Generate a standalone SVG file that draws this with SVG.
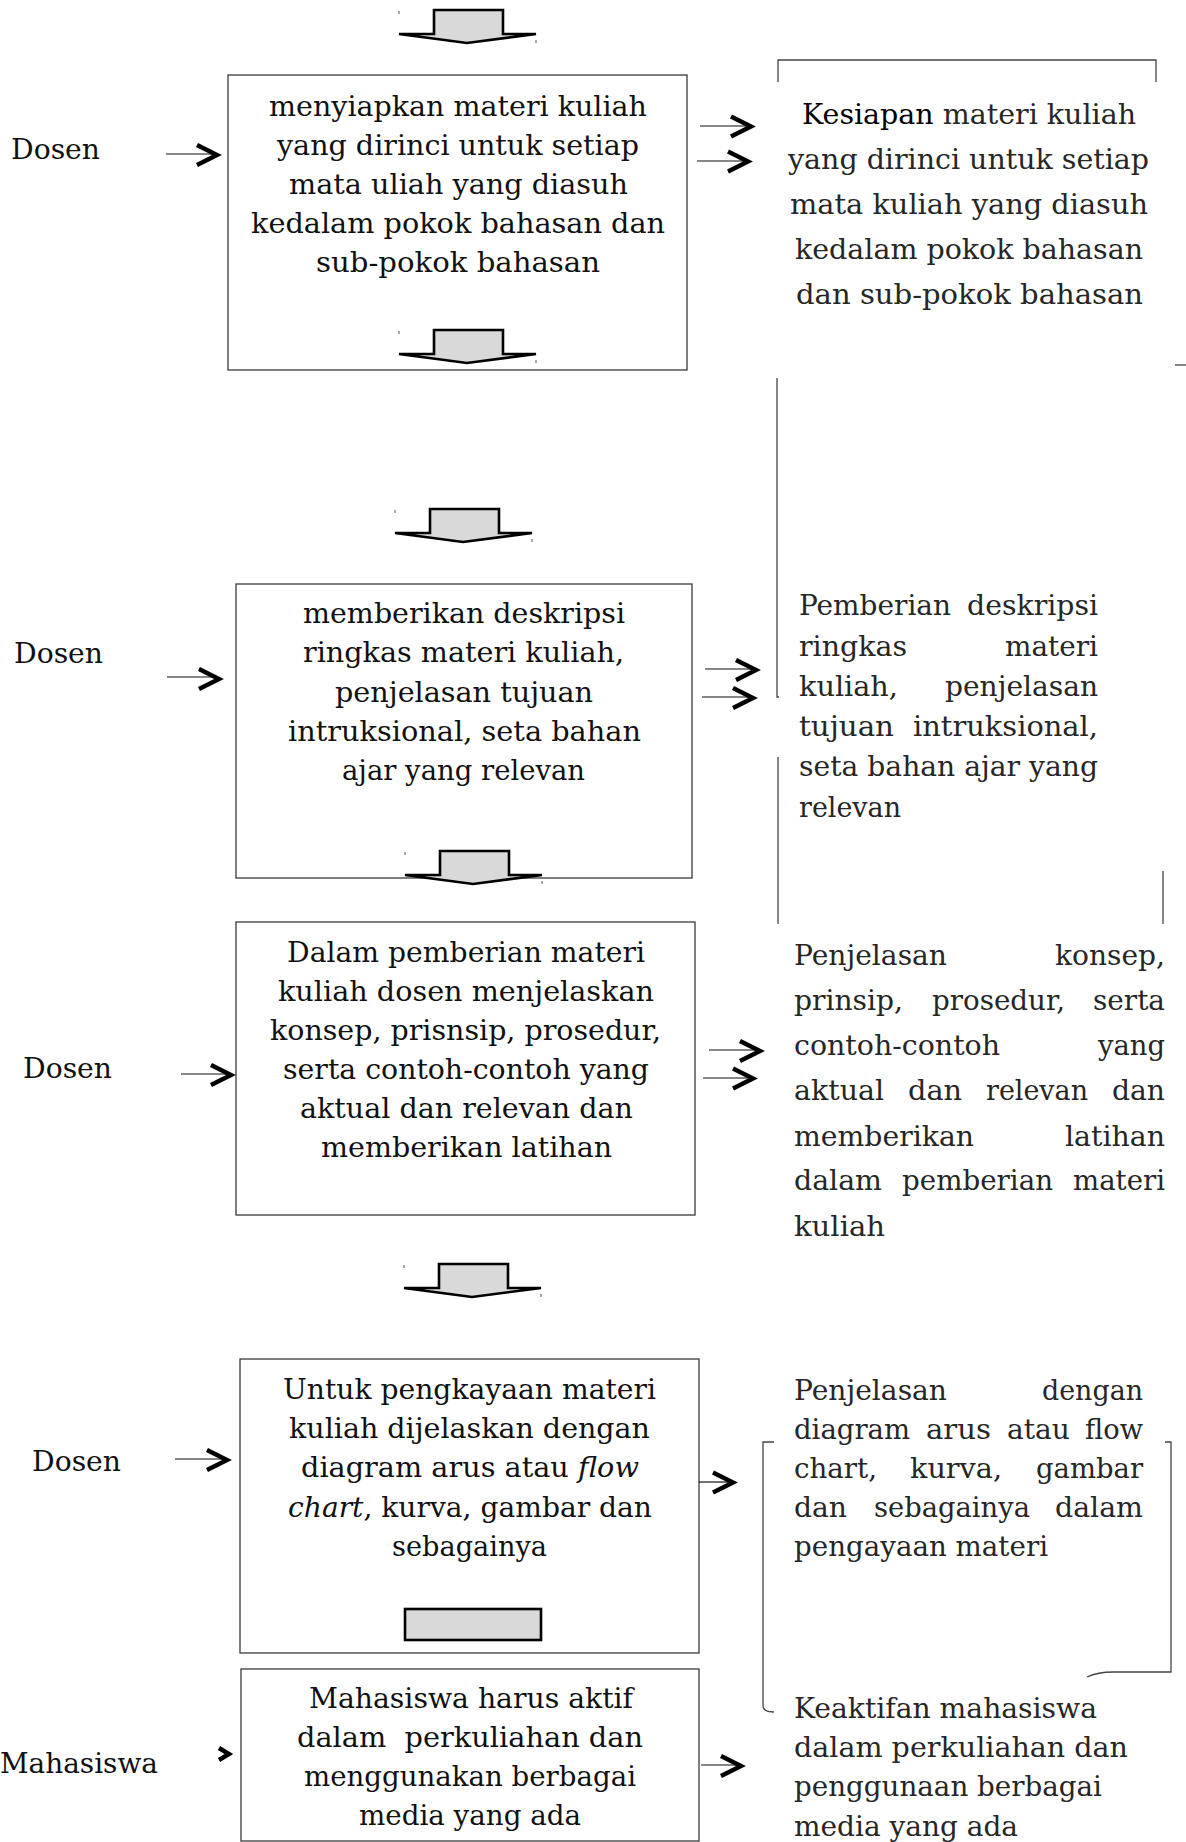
<svg xmlns="http://www.w3.org/2000/svg" xmlns:xlink="http://www.w3.org/1999/xlink" width="1186" height="1842" viewBox="0 0 1186 1842">
<style>
.bg{fill:#fff}
.b{fill:#fff;stroke:#3a3a3a;stroke-width:1.3}
.t{font-family:"DejaVu Serif","Liberation Serif",serif;font-size:28px;fill:#111}
.r{fill:#262626}
.k{fill:#000}
.ba{fill:#d9d9d9;stroke:#000;stroke-width:2.6;stroke-linejoin:miter}
.ln{stroke:#111;stroke-width:1.2;fill:none}
.ch{stroke:#000;stroke-width:4.4;fill:none;stroke-linejoin:miter;stroke-linecap:butt}
.fr{stroke:#444;stroke-width:1.3;fill:none}
.tk{stroke:#555;stroke-width:1;fill:none}
</style>
<defs>
<path id="chev" class="ch" d="M-20,-10 L0,0 L-20,10"/>
<g id="barrow">
<path class="ba" d="M35,0 H104 V24 H137 L68,33 L0,24 H35 Z"/>
<path class="tk" d="M0,1 V4 M137,30 V33"/>
</g>
</defs>
<rect class="bg" x="0" y="0" width="1186" height="1842"/>

<g id="label-dosen-1"><text class="t" x="11" y="159" textLength="89" lengthAdjust="spacingAndGlyphs">Dosen</text></g>
<g id="label-dosen-2"><text class="t" x="14" y="663" textLength="89" lengthAdjust="spacingAndGlyphs">Dosen</text></g>
<g id="label-dosen-3"><text class="t" x="23" y="1078" textLength="89" lengthAdjust="spacingAndGlyphs">Dosen</text></g>
<g id="label-dosen-4"><text class="t" x="32" y="1471" textLength="89" lengthAdjust="spacingAndGlyphs">Dosen</text></g>
<g id="label-mahasiswa"><text class="t" x="0" y="1773" textLength="158" lengthAdjust="spacingAndGlyphs">Mahasiswa</text></g>

<g id="box-1">
<rect class="b" x="228" y="75" width="459" height="295"/>
<text class="t" x="269" y="116" textLength="378" lengthAdjust="spacingAndGlyphs">menyiapkan materi kuliah</text>
<text class="t" x="277" y="155" textLength="362" lengthAdjust="spacingAndGlyphs">yang dirinci untuk setiap</text>
<text class="t" x="289" y="194" textLength="339" lengthAdjust="spacingAndGlyphs">mata uliah yang diasuh</text>
<text class="t" x="251" y="233" textLength="414" lengthAdjust="spacingAndGlyphs">kedalam pokok bahasan dan</text>
<text class="t" x="316" y="272" textLength="284" lengthAdjust="spacingAndGlyphs">sub-pokok bahasan</text>
</g>

<g id="box-2">
<rect class="b" x="236" y="584" width="456" height="294"/>
<text class="t" x="303" y="623" textLength="322" lengthAdjust="spacingAndGlyphs">memberikan deskripsi</text>
<text class="t" x="303" y="662" textLength="321" lengthAdjust="spacingAndGlyphs">ringkas materi kuliah,</text>
<text class="t" x="335" y="702" textLength="258" lengthAdjust="spacingAndGlyphs">penjelasan tujuan</text>
<text class="t" x="288" y="741" textLength="353" lengthAdjust="spacingAndGlyphs">intruksional, seta bahan</text>
<text class="t" x="342" y="780" textLength="243" lengthAdjust="spacingAndGlyphs">ajar yang relevan</text>
</g>

<g id="box-3">
<rect class="b" x="236" y="922" width="459" height="293"/>
<text class="t" x="287" y="962" textLength="358" lengthAdjust="spacingAndGlyphs">Dalam pemberian materi</text>
<text class="t" x="278" y="1001" textLength="376" lengthAdjust="spacingAndGlyphs">kuliah dosen menjelaskan</text>
<text class="t" x="270" y="1040" textLength="391" lengthAdjust="spacingAndGlyphs">konsep, prisnsip, prosedur,</text>
<text class="t" x="283" y="1079" textLength="366" lengthAdjust="spacingAndGlyphs">serta contoh-contoh yang</text>
<text class="t" x="300" y="1118" textLength="333" lengthAdjust="spacingAndGlyphs">aktual dan relevan dan</text>
<text class="t" x="321" y="1157" textLength="291" lengthAdjust="spacingAndGlyphs">memberikan latihan</text>
</g>

<g id="box-4">
<rect class="b" x="240" y="1359" width="459" height="294"/>
<text class="t" x="283" y="1399" textLength="373" lengthAdjust="spacingAndGlyphs">Untuk pengkayaan materi</text>
<text class="t" x="289" y="1438" textLength="361" lengthAdjust="spacingAndGlyphs">kuliah dijelaskan dengan</text>
<text class="t" x="301" y="1477" textLength="338" lengthAdjust="spacingAndGlyphs">diagram arus atau <tspan font-style="italic">flow</tspan></text>
<text class="t" x="288" y="1517" textLength="364" lengthAdjust="spacingAndGlyphs"><tspan font-style="italic">chart</tspan>, kurva, gambar dan</text>
<text class="t" x="392" y="1556" textLength="155" lengthAdjust="spacingAndGlyphs">sebagainya</text>
<rect class="ba" x="405" y="1609" width="136" height="31"/>
</g>

<g id="box-5">
<rect class="b" x="241" y="1669" width="458" height="172"/>
<text class="t" x="309" y="1708" textLength="324" lengthAdjust="spacingAndGlyphs">Mahasiswa harus aktif</text>
<text class="t" x="297" y="1747" textLength="346" lengthAdjust="spacingAndGlyphs" xml:space="preserve">dalam  perkuliahan dan</text>
<text class="t" x="304" y="1786" textLength="332" lengthAdjust="spacingAndGlyphs">menggunakan berbagai</text>
<text class="t" x="359" y="1825" textLength="222" lengthAdjust="spacingAndGlyphs">media yang ada</text>
</g>

<g id="result-1">
<text class="t r" x="802" y="124" textLength="334" lengthAdjust="spacingAndGlyphs"><tspan class="k">Kesiapan</tspan> materi kuliah</text>
<text class="t r" x="788" y="169" textLength="361" lengthAdjust="spacingAndGlyphs">yang dirinci untuk setiap</text>
<text class="t r" x="790" y="214" textLength="358" lengthAdjust="spacingAndGlyphs">mata kuliah yang diasuh</text>
<text class="t r" x="795" y="259" textLength="348" lengthAdjust="spacingAndGlyphs">kedalam pokok bahasan</text>
<text class="t r" x="796" y="304" textLength="347" lengthAdjust="spacingAndGlyphs">dan sub-pokok bahasan</text>
</g>

<g id="result-2">
<text class="t r" y="615"><tspan x="799" textLength="152" lengthAdjust="spacingAndGlyphs">Pemberian</tspan><tspan x="967" textLength="131" lengthAdjust="spacingAndGlyphs">deskripsi</tspan></text>
<text class="t r" y="656"><tspan x="799" textLength="108" lengthAdjust="spacingAndGlyphs">ringkas</tspan><tspan x="1005" textLength="93" lengthAdjust="spacingAndGlyphs">materi</tspan></text>
<text class="t r" y="696"><tspan x="799" textLength="99" lengthAdjust="spacingAndGlyphs">kuliah,</tspan><tspan x="945" textLength="153" lengthAdjust="spacingAndGlyphs">penjelasan</tspan></text>
<text class="t r" y="736"><tspan x="799" textLength="95" lengthAdjust="spacingAndGlyphs">tujuan</tspan><tspan x="913" textLength="185" lengthAdjust="spacingAndGlyphs">intruksional,</tspan></text>
<text class="t r" x="799" y="776" textLength="299" lengthAdjust="spacingAndGlyphs">seta bahan ajar yang</text>
<text class="t r" x="799" y="817" textLength="102" lengthAdjust="spacingAndGlyphs">relevan</text>
</g>

<g id="result-3">
<text class="t r" y="965"><tspan x="794" textLength="153" lengthAdjust="spacingAndGlyphs">Penjelasan</tspan><tspan x="1055" textLength="110" lengthAdjust="spacingAndGlyphs">konsep,</tspan></text>
<text class="t r" y="1010"><tspan x="794" textLength="109" lengthAdjust="spacingAndGlyphs">prinsip,</tspan><tspan x="932" textLength="133" lengthAdjust="spacingAndGlyphs">prosedur,</tspan><tspan x="1093" textLength="72" lengthAdjust="spacingAndGlyphs">serta</tspan></text>
<text class="t r" y="1055"><tspan x="794" textLength="206" lengthAdjust="spacingAndGlyphs">contoh-contoh</tspan><tspan x="1098" textLength="67" lengthAdjust="spacingAndGlyphs">yang</tspan></text>
<text class="t r" y="1100"><tspan x="794" textLength="90" lengthAdjust="spacingAndGlyphs">aktual</tspan><tspan x="908" textLength="54" lengthAdjust="spacingAndGlyphs">dan</tspan><tspan x="986" textLength="102" lengthAdjust="spacingAndGlyphs">relevan</tspan><tspan x="1112" textLength="53" lengthAdjust="spacingAndGlyphs">dan</tspan></text>
<text class="t r" y="1146"><tspan x="794" textLength="180" lengthAdjust="spacingAndGlyphs">memberikan</tspan><tspan x="1065" textLength="100" lengthAdjust="spacingAndGlyphs">latihan</tspan></text>
<text class="t r" y="1190"><tspan x="794" textLength="88" lengthAdjust="spacingAndGlyphs">dalam</tspan><tspan x="902" textLength="151" lengthAdjust="spacingAndGlyphs">pemberian</tspan><tspan x="1073" textLength="92" lengthAdjust="spacingAndGlyphs">materi</tspan></text>
<text class="t r" x="794" y="1236" textLength="91" lengthAdjust="spacingAndGlyphs">kuliah</text>
</g>

<g id="result-4">
<text class="t r" y="1400"><tspan x="794" textLength="153" lengthAdjust="spacingAndGlyphs">Penjelasan</tspan><tspan x="1042" textLength="101" lengthAdjust="spacingAndGlyphs">dengan</tspan></text>
<text class="t r" y="1439"><tspan x="794" textLength="116" lengthAdjust="spacingAndGlyphs">diagram</tspan><tspan x="926" textLength="65" lengthAdjust="spacingAndGlyphs">arus</tspan><tspan x="1007" textLength="63" lengthAdjust="spacingAndGlyphs">atau</tspan><tspan x="1085" textLength="58" lengthAdjust="spacingAndGlyphs">flow</tspan></text>
<text class="t r" y="1478"><tspan x="794" textLength="83" lengthAdjust="spacingAndGlyphs">chart,</tspan><tspan x="910" textLength="92" lengthAdjust="spacingAndGlyphs">kurva,</tspan><tspan x="1036" textLength="107" lengthAdjust="spacingAndGlyphs">gambar</tspan></text>
<text class="t r" y="1517"><tspan x="794" textLength="53" lengthAdjust="spacingAndGlyphs">dan</tspan><tspan x="874" textLength="156" lengthAdjust="spacingAndGlyphs">sebagainya</tspan><tspan x="1055" textLength="88" lengthAdjust="spacingAndGlyphs">dalam</tspan></text>
<text class="t r" x="794" y="1556" textLength="254" lengthAdjust="spacingAndGlyphs">pengayaan materi</text>
</g>

<g id="result-5">
<text class="t r" x="794" y="1718" textLength="303" lengthAdjust="spacingAndGlyphs">Keaktifan mahasiswa</text>
<text class="t r" x="794" y="1757" textLength="334" lengthAdjust="spacingAndGlyphs">dalam perkuliahan dan</text>
<text class="t r" x="794" y="1796" textLength="308" lengthAdjust="spacingAndGlyphs">penggunaan berbagai</text>
<text class="t r" x="794" y="1836" textLength="224" lengthAdjust="spacingAndGlyphs">media yang ada</text>
</g>

<g id="connectors">
<use xlink:href="#barrow" href="#barrow" x="399" y="10"/>
<use xlink:href="#barrow" href="#barrow" x="399" y="330"/>
<use xlink:href="#barrow" href="#barrow" x="395" y="509"/>
<use xlink:href="#barrow" href="#barrow" x="405" y="851"/>
<use xlink:href="#barrow" href="#barrow" x="404" y="1264"/>

<path class="ln" d="M166,154 H212"/><use xlink:href="#chev" href="#chev" x="217" y="155"/>
<path class="ln" d="M167,677 H214"/><use xlink:href="#chev" href="#chev" x="219" y="679"/>
<path class="ln" d="M181,1074 H226"/><use xlink:href="#chev" href="#chev" x="231" y="1075"/>
<path class="ln" d="M175,1459 H222"/><use xlink:href="#chev" href="#chev" x="227" y="1460"/>
<path class="ch" d="M219,1748 L229,1754 L219,1760"/>

<path class="ln" d="M700,126 H746"/><use xlink:href="#chev" href="#chev" x="751" y="126.5"/>
<path class="ln" d="M697,161 H743"/><use xlink:href="#chev" href="#chev" x="748" y="161.5"/>
<path class="ln" d="M705,669 H751"/><use xlink:href="#chev" href="#chev" x="756" y="670"/>
<path class="ln" d="M702,697 H748"/><use xlink:href="#chev" href="#chev" x="753" y="698"/>
<path class="ln" d="M709,1050 H755"/><use xlink:href="#chev" href="#chev" x="760" y="1051"/>
<path class="ln" d="M703,1078 H748"/><use xlink:href="#chev" href="#chev" x="753" y="1078.5"/>
<path class="ln" d="M699,1482 H728"/><use xlink:href="#chev" href="#chev" x="733" y="1482.5"/>
<path class="ln" d="M701,1765 H736"/><use xlink:href="#chev" href="#chev" x="741" y="1766"/>

<path class="fr" d="M778,82 V60 H1156 V82"/>
<path class="fr" d="M777,378 V697 H779"/>
<path class="fr" d="M1175,365 H1186"/>
<path class="fr" d="M778,757 V924"/>
<path class="fr" d="M1163,871 V924"/>
<path class="fr" d="M774,1442 H763 V1706 Q763,1712 774,1712"/>
<path class="fr" d="M1165,1442 H1171 V1672 H1113 Q1098,1672 1087,1677"/>
</g>
</svg>
